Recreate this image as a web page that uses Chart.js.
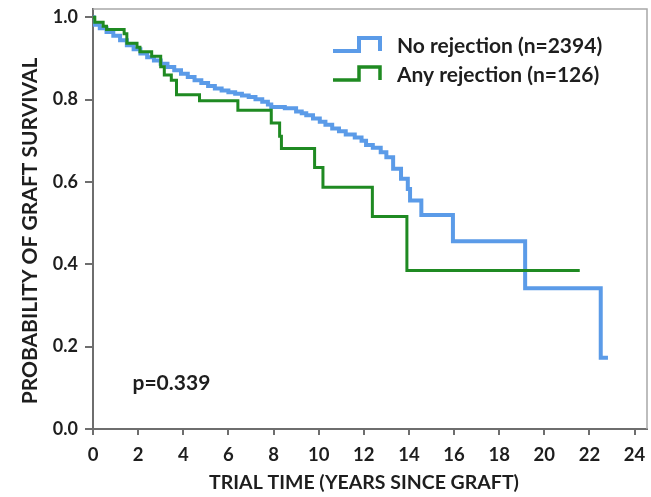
<!DOCTYPE html>
<html>
<head>
<meta charset="utf-8">
<script src="https://cdn.jsdelivr.net/npm/chart.js@4"></script>
<style>
  html, body { margin: 0; padding: 0; background: #ffffff; }
  #wrap { width: 651px; height: 497px; }
</style>
</head>
<body>
<div id="wrap"><canvas id="km" width="651" height="497"></canvas></div>
<script>
// Axis ticks
const xTicks = [0, 2, 4, 6, 8, 10, 12, 14, 16, 18, 20, 22, 24];
const yTicks = [0.0, 0.2, 0.4, 0.6, 0.8, 1.0];

// Kaplan-Meier estimate, no rejection group: event time (years) and survival after the event
const noRejTime = [0, 0.03, 0.3, 0.6, 0.9, 1.2, 1.5, 1.8, 2.1, 2.4, 2.7, 3.0, 3.3, 3.6, 3.9,
  4.2, 4.5, 4.8, 5.1, 5.4, 5.7, 6.0, 6.3, 6.6, 6.9, 7.2, 7.5, 7.75, 7.9, 8.5, 9.0, 9.25,
  9.45, 9.75, 10.05, 10.3, 10.6, 10.9, 11.2, 11.6, 11.9, 12.1, 12.4, 12.75, 13.0, 13.3,
  13.65, 13.95, 14.05, 14.55, 15.95, 19.15, 22.5, 22.82];
const noRejSurv = [1.0, 0.982, 0.973, 0.964, 0.955, 0.944, 0.932, 0.922, 0.912, 0.903, 0.895,
  0.887, 0.879, 0.871, 0.863, 0.855, 0.847, 0.840, 0.833, 0.827, 0.822, 0.818, 0.814, 0.810,
  0.806, 0.801, 0.795, 0.788, 0.782, 0.779, 0.771, 0.767, 0.762, 0.754, 0.746, 0.739, 0.730,
  0.723, 0.715, 0.708, 0.700, 0.690, 0.683, 0.672, 0.660, 0.632, 0.608, 0.583, 0.555, 0.520,
  0.456, 0.342, 0.173, 0.173];

// Kaplan-Meier estimate, any rejection group
const anyRejTime = [0, 0.08, 0.45, 0.6, 1.38, 1.5, 1.95, 2.08, 2.6, 3.0, 3.16, 3.47, 3.7, 4.72,
  6.42, 7.9, 8.27, 8.35, 9.82, 10.19, 12.38, 13.91, 21.57];
const anyRejSurv = [1.0, 0.988, 0.978, 0.970, 0.960, 0.937, 0.927, 0.916, 0.905, 0.880, 0.860,
  0.847, 0.812, 0.797, 0.774, 0.743, 0.711, 0.681, 0.635, 0.587, 0.516, 0.385, 0.385];

const seriesNames = ['No rejection (n=2394)', 'Any rejection (n=126)'];
const seriesColors = ['#5b9be8', '#1f8a22'];
const pValueText = 'p=0.339';
const xTitle = 'TRIAL TIME (YEARS SINCE GRAFT)';
const yTitle = 'PROBABILITY OF GRAFT SURVIVAL';

const FONT = 'Lato';
const TEXT = '#1e1e1e';
const AXIS = '#6e6e6e';

const toPoints = (xs, ys) => xs.map((x, i) => ({ x: x, y: ys[i] }));

// Light frame on the top and right of the plot area
const framePlugin = {
  id: 'frame',
  beforeDatasetsDraw(chart) {
    const { ctx, chartArea: a } = chart;
    ctx.save();
    ctx.strokeStyle = '#a8a8a8';
    ctx.lineWidth = 1.5;
    ctx.beginPath();
    ctx.moveTo(a.left, a.top);
    ctx.lineTo(a.right, a.top);
    ctx.lineTo(a.right, a.bottom);
    ctx.stroke();
    ctx.restore();
  }
};

// Legend with step-shaped keys, axis titles and the log-rank p value
const notesPlugin = {
  id: 'notes',
  afterDraw(chart) {
    const { ctx, chartArea: a } = chart;
    ctx.save();
    ctx.font = 'bold 21px ' + FONT;
    ctx.textBaseline = 'middle';
    ctx.textAlign = 'left';
    const rows = [46, 75];
    rows.forEach((cy, i) => {
      const x0 = a.left + 240;
      ctx.strokeStyle = seriesColors[i];
      ctx.lineWidth = i === 0 ? 4 : 3.5;
      ctx.lineJoin = 'miter';
      ctx.beginPath();
      ctx.moveTo(x0, cy + 5);
      ctx.lineTo(x0 + 26, cy + 5);
      ctx.lineTo(x0 + 26, cy - 8);
      ctx.lineTo(x0 + 47, cy - 8);
      ctx.lineTo(x0 + 47, cy + 5);
      ctx.stroke();
      ctx.fillStyle = TEXT;
      ctx.fillText(seriesNames[i], x0 + 64, cy);
    });

    const xs = chart.scales.x, ys = chart.scales.y;
    ctx.font = 'bold 21px ' + FONT;
    ctx.fillText(pValueText, xs.getPixelForValue(1.75), ys.getPixelForValue(0.111));

    ctx.textAlign = 'center';
    ctx.font = 'bold 19.5px ' + FONT;
    ctx.fillText(xTitle, 364, 482.5);

    ctx.translate(30, 231);
    ctx.rotate(-Math.PI / 2);
    ctx.font = 'bold 21px ' + FONT;
    ctx.fillText(yTitle, 0, 0);
    ctx.restore();
  }
};

new Chart(document.getElementById('km'), {
  type: 'line',
  data: {
    datasets: [
      {
        label: seriesNames[0],
        data: toPoints(noRejTime, noRejSurv),
        borderColor: seriesColors[0],
        borderWidth: 4,
        stepped: true,
        pointRadius: 0,
        fill: false,
        order: 1
      },
      {
        label: seriesNames[1],
        data: toPoints(anyRejTime, anyRejSurv),
        borderColor: seriesColors[1],
        borderWidth: 3,
        stepped: true,
        pointRadius: 0,
        fill: false,
        order: 0
      }
    ]
  },
  options: {
    responsive: false,
    animation: false,
    devicePixelRatio: 1,
    layout: { padding: { top: 9, right: 4, left: 0, bottom: 0 } },
    plugins: { legend: { display: false }, tooltip: { enabled: false } },
    scales: {
      x: {
        type: 'linear',
        min: 0,
        max: 24.55,
        afterBuildTicks(scale) { scale.ticks = xTicks.map(v => ({ value: v })); },
        afterFit(scale) {
          scale.height = 68;
          scale.paddingLeft = 0;
          scale.paddingRight = 0;
        },
        ticks: {
          font: { family: FONT, size: 18.5, weight: 'bold' },
          color: TEXT,
          padding: 9,
          maxRotation: 0,
          autoSkip: false
        },
        grid: { drawOnChartArea: false, drawTicks: true, tickLength: 6, color: AXIS, lineWidth: 2 },
        border: { display: true, color: AXIS, width: 2 }
      },
      y: {
        type: 'linear',
        min: 0,
        max: 1.02,
        afterBuildTicks(scale) { scale.ticks = yTicks.map(v => ({ value: v })); },
        afterFit(scale) {
          scale.width = 93;
          scale.paddingTop = 0;
          scale.paddingBottom = 0;
        },
        ticks: {
          font: { family: FONT, size: 18, weight: 'bold' },
          color: TEXT,
          padding: 7,
          callback: v => Number(v).toFixed(1)
        },
        grid: { drawOnChartArea: false, drawTicks: true, tickLength: 8, color: AXIS, lineWidth: 2 },
        border: { display: true, color: AXIS, width: 2 }
      }
    }
  },
  plugins: [framePlugin, notesPlugin]
});
</script>
</body>
</html>
